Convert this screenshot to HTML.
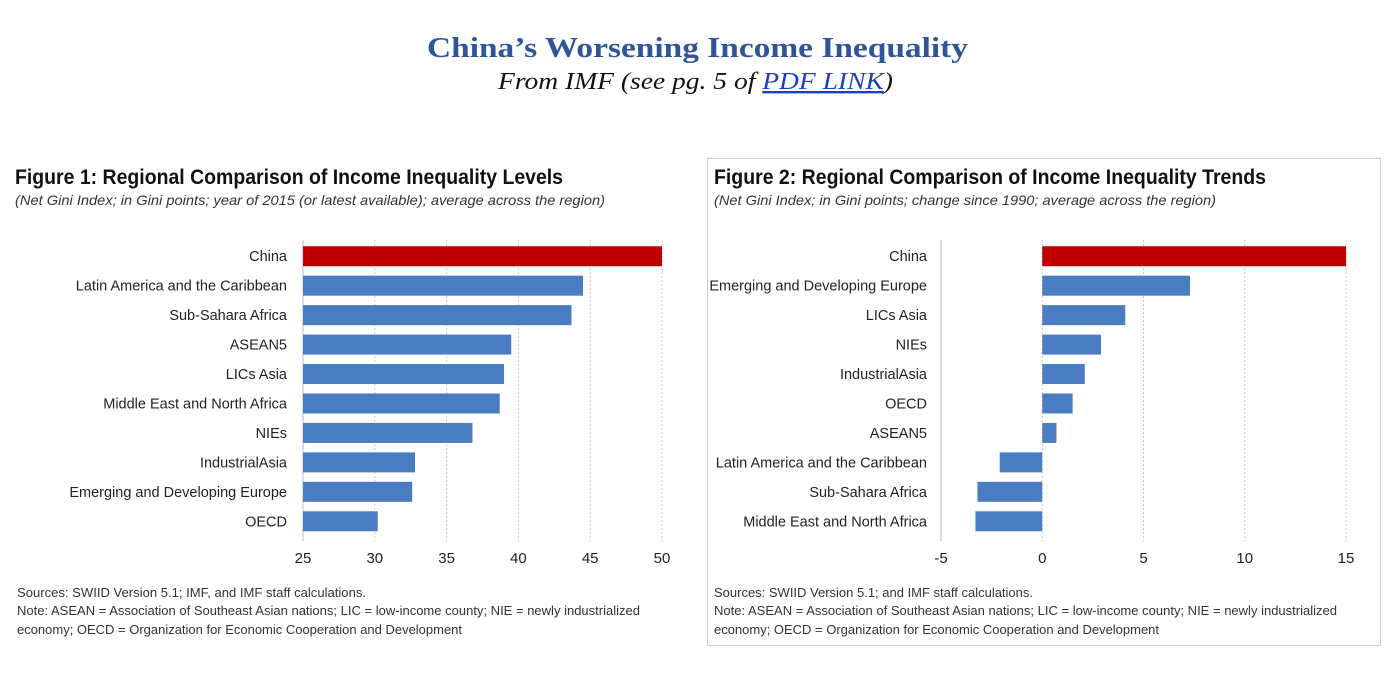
<!DOCTYPE html>
<html><head><meta charset="utf-8"><style>
html,body{margin:0;padding:0;background:#fff;width:1395px;height:673px;overflow:hidden}
svg{display:block}
.sans{font-family:"Liberation Sans Narrow","Liberation Sans",sans-serif}
</style></head><body>
<svg id="root" width="1395" height="673" xmlns="http://www.w3.org/2000/svg">
<text x="427" y="57" textLength="541" lengthAdjust="spacingAndGlyphs" font-family="Liberation Serif,serif" font-weight="bold" font-size="29" fill="#2f5597">China’s Worsening Income Inequality</text>
<text x="498" y="89" textLength="395" lengthAdjust="spacingAndGlyphs" font-family="Liberation Serif,serif" font-style="italic" font-size="24" fill="#111">From IMF (see pg. 5 of <tspan fill="#1f3fbf" text-decoration="underline">PDF LINK</tspan>)</text>
<rect x="707.5" y="158.5" width="673" height="487" fill="none" stroke="#ccc"/>
<g class="sans">
<text x="15" y="184" font-weight="bold" font-size="21" textLength="548" lengthAdjust="spacingAndGlyphs" fill="#111">Figure 1: Regional Comparison of Income Inequality Levels</text>
<text x="15" y="205" font-style="italic" font-size="14" textLength="590" lengthAdjust="spacingAndGlyphs" fill="#333">(Net Gini Index; in Gini points; year of 2015 (or latest available); average across the region)</text>
<text x="714" y="184" font-weight="bold" font-size="21" textLength="552" lengthAdjust="spacingAndGlyphs" fill="#111">Figure 2: Regional Comparison of Income Inequality Trends</text>
<text x="714" y="205" font-style="italic" font-size="14" textLength="502" lengthAdjust="spacingAndGlyphs" fill="#333">(Net Gini Index; in Gini points; change since 1990; average across the region)</text>
<text x="17" y="597" font-size="13" textLength="349" lengthAdjust="spacingAndGlyphs" fill="#333">Sources: SWIID Version 5.1; IMF, and IMF staff calculations.</text>
<text x="17" y="615" font-size="13" textLength="623" lengthAdjust="spacingAndGlyphs" fill="#333">Note: ASEAN = Association of Southeast Asian nations; LIC = low-income county; NIE = newly industrialized</text>
<text x="17" y="634" font-size="13" textLength="445" lengthAdjust="spacingAndGlyphs" fill="#333">economy; OECD = Organization for Economic Cooperation and Development</text>
<text x="714" y="597" font-size="13" textLength="319" lengthAdjust="spacingAndGlyphs" fill="#333">Sources: SWIID Version 5.1; and IMF staff calculations.</text>
<text x="714" y="615" font-size="13" textLength="623" lengthAdjust="spacingAndGlyphs" fill="#333">Note: ASEAN = Association of Southeast Asian nations; LIC = low-income county; NIE = newly industrialized</text>
<text x="714" y="634" font-size="13" textLength="445" lengthAdjust="spacingAndGlyphs" fill="#333">economy; OECD = Organization for Economic Cooperation and Development</text>
</g>
<g id="c1"></g><g id="c2"></g>
</svg>
<script>
const cats1 = ["China","Latin America and the Caribbean","Sub-Sahara Africa","ASEAN5","LICs Asia","Middle East and North Africa","NIEs","IndustrialAsia","Emerging and Developing Europe","OECD"];
const vals1 = [50,44.5,43.7,39.5,39,38.7,36.8,32.8,32.6,30.2];
const ticks1 = [25,30,35,40,45,50];
const cats2 = ["China","Emerging and Developing Europe","LICs Asia","NIEs","IndustrialAsia","OECD","ASEAN5","Latin America and the Caribbean","Sub-Sahara Africa","Middle East and North Africa"];
const vals2 = [15,7.3,4.1,2.9,2.1,1.5,0.7,-2.1,-3.2,-3.3];
const ticks2 = [-5,0,5,10,15];
const NS='http://www.w3.org/2000/svg';
function mk(parent,tag,attrs){const e=document.createElementNS(NS,tag);for(const k in attrs)e.setAttribute(k,attrs[k]);parent.appendChild(e);return e;}
function draw(gid,cats,vals,ticks,x0,x1,labelX,zero,pfx){
  const g=document.getElementById(gid);
  const min=ticks[0],max=ticks[ticks.length-1];
  const sx=v=>x0+(v-min)/(max-min)*(x1-x0);
  const top=241.5,step=29.45,bh=20;
  ticks.forEach((t,i)=>{
    const solid=(i===0);
    const l=mk(g,'line',{x1:sx(t),x2:sx(t),y1:240,y2:541,stroke:solid?'#bbb':'#ccc','stroke-dasharray':solid?'':'2,2'});
    
    
    const tx=mk(g,'text',{x:sx(t),y:563,'text-anchor':'middle','font-size':15,'font-family':'Liberation Sans Narrow,Liberation Sans,sans-serif',fill:'#222'});
    tx.textContent=t;
    
    
  });
  cats.forEach((c,i)=>{
    const cy=top+step*(i+0.5);
    const a=sx(zero),b=sx(vals[i]);
    const r=mk(g,'rect',{x:Math.min(a,b),y:cy-bh/2,width:Math.abs(b-a),height:bh,fill:i===0?'#c00000':'#4a7cc1'});
    
    
    const tx=mk(g,'text',{x:labelX,y:cy+5,'text-anchor':'end','font-size':14.5,'font-family':'Liberation Sans Narrow,Liberation Sans,sans-serif',fill:'#222'});
    tx.textContent=c;
    
    
  });
}
draw('c1',cats1,vals1,ticks1,303,662,287,25,'fig1-');
draw('c2',cats2,vals2,ticks2,941,1346,927,0,'fig2-');
</script>
</body></html>
